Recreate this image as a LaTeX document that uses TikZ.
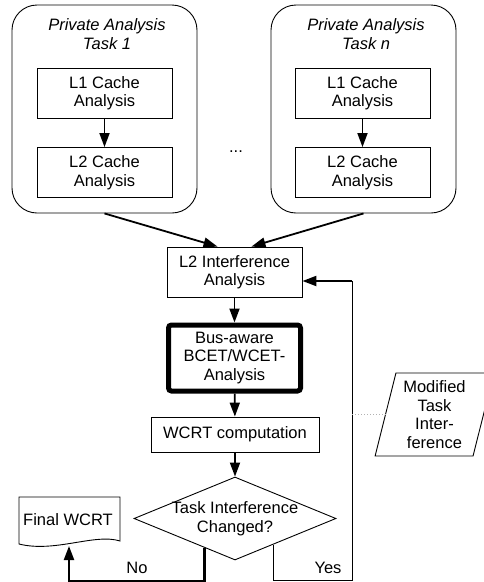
\documentclass[tikz,border=0pt]{standalone}
\usepackage{fontspec}
\setmainfont{Liberation Sans}
\usetikzlibrary{shapes.geometric,arrows.meta,calc}

\tikzset{
	taskbox/.style={draw, rounded corners=25pt, minimum width=185pt, minimum height=208pt},
	box/.style={draw, align=center, inner sep=0pt, minimum width=135pt, minimum height=50pt},
	arr/.style={line width=1.8pt, -{Triangle[length=14pt,width=10pt]}},
}

\begin{document}
\begin{tikzpicture}[x=1pt, y=-1pt, line width=0.9pt, font=\fontsize{16.5pt}{18.5pt}\selectfont]
			\useasboundingbox (0,0) rectangle (483,582);
			% private analyses
			\node[taskbox] (task1) at (104.5,109) {};
			\node[taskbox] (taskn) at (363.5,109) {};
			\node[align=center, font=\fontsize{16.5pt}{18.5pt}\selectfont\itshape] (title1) at (107,34) {Private Analysis\\Task 1};
			\node[align=center, font=\fontsize{16.5pt}{18.5pt}\selectfont\itshape] (titlen) at (366,34) {Private Analysis\\Task \textit{n}};
			\node[box] (l1a) at (104.5,93) {L1 Cache\\Analysis};
			\node[box] (l2a) at (104.5,172.5) {L2 Cache\\Analysis};
			\node[box] (l1b) at (362.5,93) {L1 Cache\\Analysis};
			\node[box] (l2b) at (362.5,172.5) {L2 Cache\\Analysis};
			\node (dots) at (236,152) {...};
			\draw[arr] (l1a) -- (l2a);
			\draw[arr] (l1b) -- (l2b);
			% shared analysis
			\node[box] (l2i) at (234.5,272) {L2 Interference\\Analysis};
			\node[box, minimum width=132pt, minimum height=66pt, line width=5pt, rounded corners=3pt] (bus) at (234.5,358) {Bus-aware\\BCET/WCET-\\Analysis};
			\node[box, minimum width=168pt, minimum height=35pt] (wcrt) at (235,434.5) {WCRT computation};
			\node[diamond, draw, inner sep=0pt, minimum width=202pt, minimum height=83pt] (chk) at (235,518.5) {};
			\node[align=center] (chktxt) at (chk.center) {Task Interference\\Changed?};
			\draw[arr] (task1.south) -- ([xshift=-17pt]l2i.north);
			\draw[arr] (taskn.south) -- ([xshift=17pt]l2i.north);
			\draw[arr] (l2i) -- (bus);
			\draw[arr] (bus) -- (wcrt);
			\draw[arr] (wcrt) -- (chk);
			% result
			\draw (19,497) -- (120,497) -- (120,541) .. controls (95,533) and (55,553) .. (19,544) -- cycle;
			\node (final) at (68,520) {Final WCRT};
			\coordinate (finalin) at (69,546);
			\draw[arr, line width=2.2pt] ($(chk.west)!0.7!(chk.south)$) -- ++(0,33) -| (finalin);
			\node (no) at (137,568) {No};
			% feedback
			\coordinate (back) at (352,281);
			\draw ($(chk.south)!0.376!(chk.east)$) -- ++(0,35.6) -| (back);
			\draw[arr, line width=2.2pt] (back) -- (back -| l2i.east);
			\node (yes) at (328,568) {Yes};
			\node[trapezium, draw, trapezium left angle=76, trapezium right angle=104, trapezium stretches=true, minimum width=119pt, minimum height=83pt, inner sep=0pt, align=center] (mod) at (434.5,414.5) {Modified\\Task\\Inter-\\ference};
			\draw[gray!60, dotted, line width=1pt] (back |- mod.west) -- (mod.west);
		\end{tikzpicture}
\end{document}
